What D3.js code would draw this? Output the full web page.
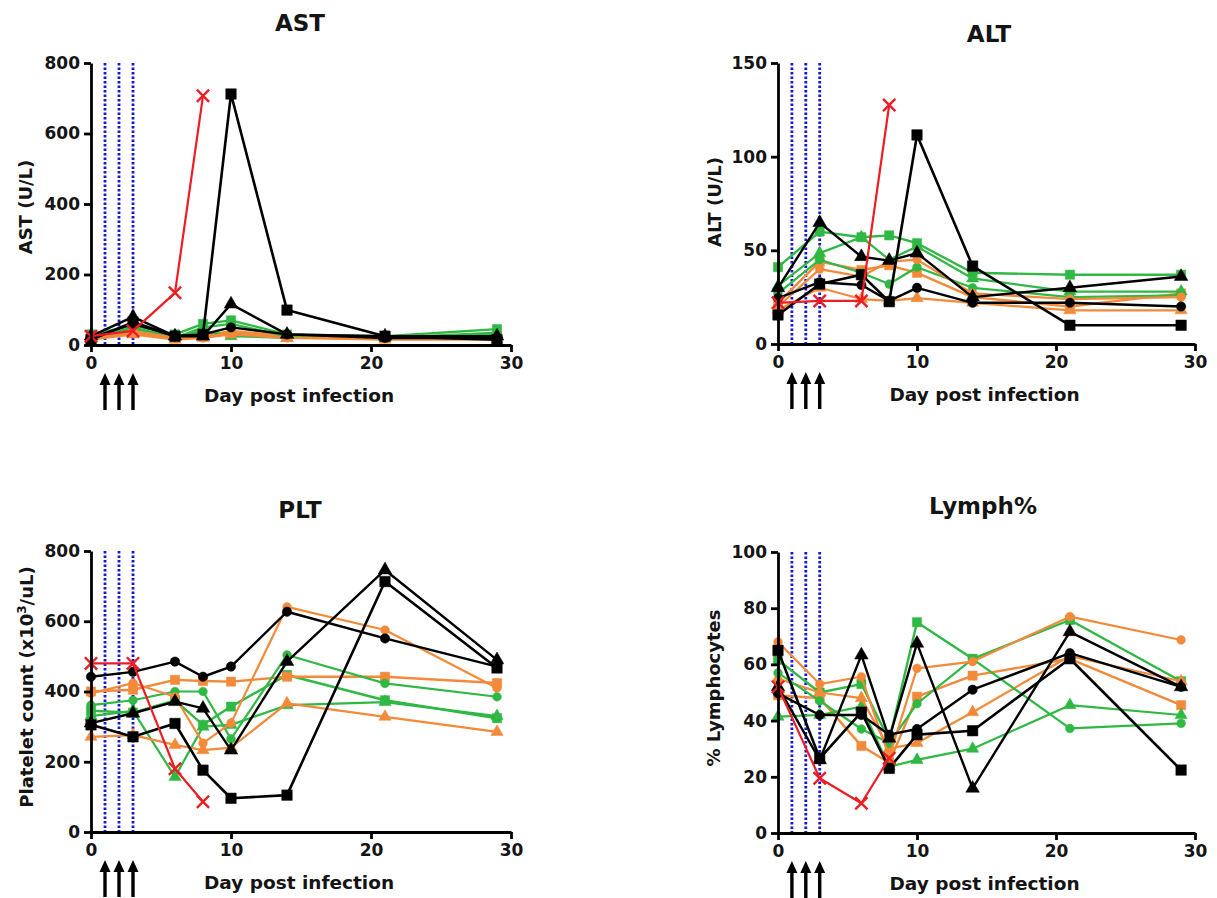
<!DOCTYPE html>
<html>
<head>
<meta charset="utf-8">
<script src="https://cdn.jsdelivr.net/npm/d3@7"></script>
<style>
body{margin:0;background:#fff}
svg{display:block}
text{font-family:"DejaVu Sans",sans-serif;font-weight:bold;fill:#141414}
</style>
</head>
<body>
<svg width="1217" height="898"></svg>
<script>
// sampling days (red animal stops at day 8)
const days = [0,3,6,8,10,14,21,29]
const redDays = [0,3,6,8]
const doseDays = [1,2,3]
const xTicks = [0,10,20,30]

// animal order: black sq, black tri, black circ, green sq, green tri, green circ,
// orange sq, orange tri, orange circ, red x
const animals = ["B1","B2","B3","G1","G2","G3","O1","O2","O3","R1"]

const astValues = [
  [15,65,25,30,712,99,25,15],
  [25,80,25,25,116,30,25,25],
  [20,60,25,30,50,30,20,20],
  [30,55,30,60,70,30,25,45],
  [25,45,25,40,25,20,20,30],
  [20,50,20,50,60,25,20,35],
  [20,35,20,25,40,25,20,20],
  [15,30,15,20,30,20,15,15],
  [20,40,20,20,35,20,20,20],
  [25,40,148,707]
]

const altValues = [
  [15.5,32,37,22.6,111.6,41.6,10,10],
  [30,64.8,46.6,44.5,48.5,25,30,36],
  [24.5,33,31.5,23,30,22,22,20],
  [41,60,57,58,53.8,38,37,37],
  [31,48.5,57,45,52,35,28,28],
  [27,45,38,32,41,30,25,26],
  [22,44,39.5,42,38,25,20,27],
  [18,30,24,23,24.5,22,18,18],
  [20,40,36,44,45,27,24,25],
  [22,23,23,127.6]
]

const pltValues = [
  [305,271,309,176,96,105,713,467],
  [310,338,371,352,233,485,746,490],
  [442,456,485,442,471,627,551,471],
  [345,340,375,305,357,447,375,324],
  [330,345,157,300,305,361,370,330],
  [361,375,400,400,265,504,423,385],
  [400,405,433,430,428,442,442,424],
  [271,276,248,233,240,366,328,285],
  [395,424,385,253,310,641,575,410],
  [480,480,180,86]
]

const lymphValues = [
  [65,26.6,43,23,35,36.4,62,22.4],
  [52,26,63.3,33.7,67.5,15.9,71.6,52],
  [49.7,42,42,35,37,51,64,52],
  [61.6,50,53,33,75,62,75.8,54],
  [41.4,42,45,23.6,26,30,45.5,42],
  [57,47,37,32,46,62,37.2,39],
  [49,48,31,25,48.5,56,62,45.5],
  [55,50,48,30,32,43,63,54],
  [68,53,55.6,27,58.6,61,77,68.7],
  [52,19.5,10.6,26.6]
]

const BLACK = "#000", GREEN = "#2fb843", ORANGE = "#f28a3a", RED = "#ee1c24"
const look = [
  {c:BLACK, s:d3.symbolSquare, z:110, w:2.6},
  {c:BLACK, s:d3.symbolTriangle, z:80, w:2.4},
  {c:BLACK, s:d3.symbolCircle, z:70, w:2.4},
  {c:GREEN, s:d3.symbolSquare, z:85, w:2.4},
  {c:GREEN, s:d3.symbolTriangle, z:65, w:2.2},
  {c:GREEN, s:d3.symbolCircle, z:60, w:2.2},
  {c:ORANGE, s:d3.symbolSquare, z:85, w:2.4},
  {c:ORANGE, s:d3.symbolTriangle, z:65, w:2.2},
  {c:ORANGE, s:d3.symbolCircle, z:60, w:2.2},
  {c:RED, s:d3.symbolX, z:100, w:2.2}
]
// draw green/orange first, black over them, red last
const drawOrder = [3,6,4,7,5,8,0,1,2,9]

const panels = [
  {title:"AST", vals:astValues, yMax:800, step:200, ylab:"AST (U/L)",
   left:91, right:511, top:63, bottom:345, tx:300, ty:31, lx:32, ly:207},
  {title:"ALT", vals:altValues, yMax:150, step:50, ylab:"ALT (U/L)",
   left:778, right:1195, top:63, bottom:344, tx:989, ty:42, lx:721, ly:202},
  {title:"PLT", vals:pltValues, yMax:800, step:200, ylab:null,
   left:91, right:511, top:551, bottom:832, tx:300, ty:518, lx:33, ly:687},
  {title:"Lymph%", vals:lymphValues, yMax:100, step:20, ylab:"% Lymphocytes",
   left:778, right:1195, top:552, bottom:833, tx:983, ty:514, lx:720, ly:688}
]

const svg = d3.select("svg")

panels.forEach(p => {
  const x = d3.scaleLinear().domain([0,30]).range([p.left,p.right])
  const y = d3.scaleLinear().domain([0,p.yMax]).range([p.bottom,p.top])
  const g = svg.append("g")

  g.append("text").attr("x",p.tx).attr("y",p.ty)
    .attr("text-anchor","middle").style("font-size","23px").text(p.title)

  // dosing days: dotted blue lines
  g.selectAll(".dose").data(doseDays).enter().append("line")
    .attr("x1",d=>x(d)).attr("x2",d=>x(d))
    .attr("y1",y(p.yMax)).attr("y2",y(0))
    .attr("stroke","#1616d6").attr("stroke-width",2.8)
    .attr("stroke-dasharray","2.5,2")

  const line = d3.line().x(d=>x(d[0])).y(d=>y(d[1]))

  drawOrder.forEach(i => {
    const v = p.vals[i]
    const dd = i === 9 ? redDays : days
    const pts = v.map((val,k)=>[dd[k],val])
    const st = look[i]
    g.append("path").datum(pts)
      .attr("fill","none").attr("stroke",st.c).attr("stroke-width",st.w)
      .attr("stroke-linejoin","round")
      .attr("d",line)
    const sym = d3.symbol().type(st.s).size(st.z)
    g.selectAll(null).data(pts).enter().append("path")
      .attr("transform",d=>`translate(${x(d[0])},${y(d[1])})`)
      .attr("d",sym)
      .attr("fill", i === 9 ? "none" : st.c)
      .attr("stroke", st.c)
      .attr("stroke-width", i === 9 ? 2.4 : 0.5)
  })

  const yAx = g.append("g").attr("transform",`translate(${p.left},0)`)
    .call(d3.axisLeft(y).tickValues(d3.range(0,p.yMax+1,p.step))
      .tickSize(7).tickSizeOuter(0).tickPadding(4))
  const xAx = g.append("g").attr("transform",`translate(0,${p.bottom})`)
    .call(d3.axisBottom(x).tickValues(xTicks)
      .tickSize(7).tickSizeOuter(0).tickPadding(5))
  ;[yAx,xAx].forEach(a => {
    a.selectAll("path,line").attr("stroke","#000").attr("stroke-width",2.8)
    a.selectAll("text").style("font-size","17px").style("font-family","DejaVu Sans")
      .style("font-weight","bold").attr("fill","#141414")
  })

  g.append("text").attr("x",(p.left+p.right)/2 - 2).attr("y",p.bottom+57)
    .attr("text-anchor","middle").style("font-size","18.5px").text("Day post infection")

  // y label
  const yl = g.append("text").attr("transform",`translate(${p.lx},${p.ly}) rotate(-90)`)
    .attr("text-anchor","middle").style("font-size","18px")
  if (p.ylab) yl.text(p.ylab)
  else {
    yl.append("tspan").text("Platelet count (x10")
    yl.append("tspan").attr("dy",-7).style("font-size","12px").text("3")
    yl.append("tspan").attr("dy",7).text("/uL)")
  }

  // dosing arrows under the axis
  const arr = g.selectAll(".arr").data(doseDays).enter().append("g")
    .attr("transform",d=>`translate(${x(d)},${p.bottom+28})`)
  arr.append("line").attr("x1",0).attr("x2",0).attr("y1",6).attr("y2",37)
    .attr("stroke","#000").attr("stroke-width",3.4)
  arr.append("path").attr("d","M0,0 L-5.5,12 L5.5,12 Z").attr("fill","#000")
})
</script>
</body>
</html>
